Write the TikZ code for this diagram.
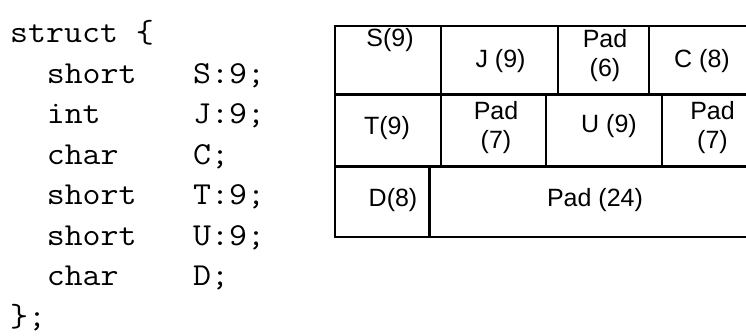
\documentclass[tikz,border=0pt]{standalone}
\usepackage{fontspec}
\setmainfont{Liberation Sans}
\newcommand{\cd}[1]{\scalebox{1.09}[1]{#1}}
\begin{document}
\begin{tikzpicture}[x=1pt,y=-1pt,
  code/.style={anchor=base west,inner sep=0pt,font=\ttfamily\fontsize{32}{36}\selectfont},
  cell/.style={inner sep=0pt,align=center,font=\fontsize{25}{29}\selectfont},
  rule/.style={line width=2.6pt,line join=miter}]
\useasboundingbox (0,0) rectangle (746,336);
% code listing
\def\cw{18.3}
\def\ls{40.5}
\node[code] (l0) at (10,43) {\cd{struct \{}};
\node[code] (l1a) at (10+2*\cw,43+\ls) {\cd{short}};
\node[code] (l1b) at (10+10*\cw,43+\ls) {\cd{S:9;}};
\node[code] (l2a) at (10+2*\cw,43+2*\ls) {\cd{int}};
\node[code] (l2b) at (10+10*\cw,43+2*\ls) {\cd{J:9;}};
\node[code] (l3a) at (10+2*\cw,43+3*\ls) {\cd{char}};
\node[code] (l3b) at (10+10*\cw,43+3*\ls) {\cd{C;}};
\node[code] (l4a) at (10+2*\cw,43+4*\ls) {\cd{short}};
\node[code] (l4b) at (10+10*\cw,43+4*\ls) {\cd{T:9;}};
\node[code] (l5a) at (10+2*\cw,43+5*\ls) {\cd{short}};
\node[code] (l5b) at (10+10*\cw,43+5*\ls) {\cd{U:9;}};
\node[code] (l6a) at (10+2*\cw,43+6*\ls) {\cd{char}};
\node[code] (l6b) at (10+10*\cw,43+6*\ls) {\cd{D;}};
\node[code] (l7) at (10,43+7*\ls) {\cd{\};}};
% table
\draw[rule] (760,26) -- (335,26) -- (335,237) -- (760,237);
\draw[rule] (335,94.5) -- (760,94.5);
\draw[rule] (335,166.5) -- (760,166.5);
\draw[rule] (441,26) -- (441,94.5);
\draw[rule] (558,26) -- (558,94.5);
\draw[rule] (649,26) -- (649,94.5);
\draw[rule] (441,94.5) -- (441,166.5);
\draw[rule] (546,94.5) -- (546,166.5);
\draw[rule] (662,94.5) -- (662,166.5);
\draw[rule] (429.5,166.5) -- (429.5,237);
% cell labels
\node[cell] (s) at (390,40) {S(9)};
\node[cell] (j) at (500.5,61) {J (9)};
\node[cell] (p6) at (605,56) {Pad\\(6)};
\node[cell] (c) at (702,61) {C (8)};
\node[cell] (t) at (387,128) {T(9)};
\node[cell] (p7a) at (496,127.5) {Pad\\(7)};
\node[cell] (u) at (609,126) {U (9)};
\node[cell] (p7b) at (712.5,127.5) {Pad\\(7)};
\node[cell] (d) at (393,200) {D(8)};
\node[cell] (p24) at (595,200) {Pad (24)};
\end{tikzpicture}
\end{document}
